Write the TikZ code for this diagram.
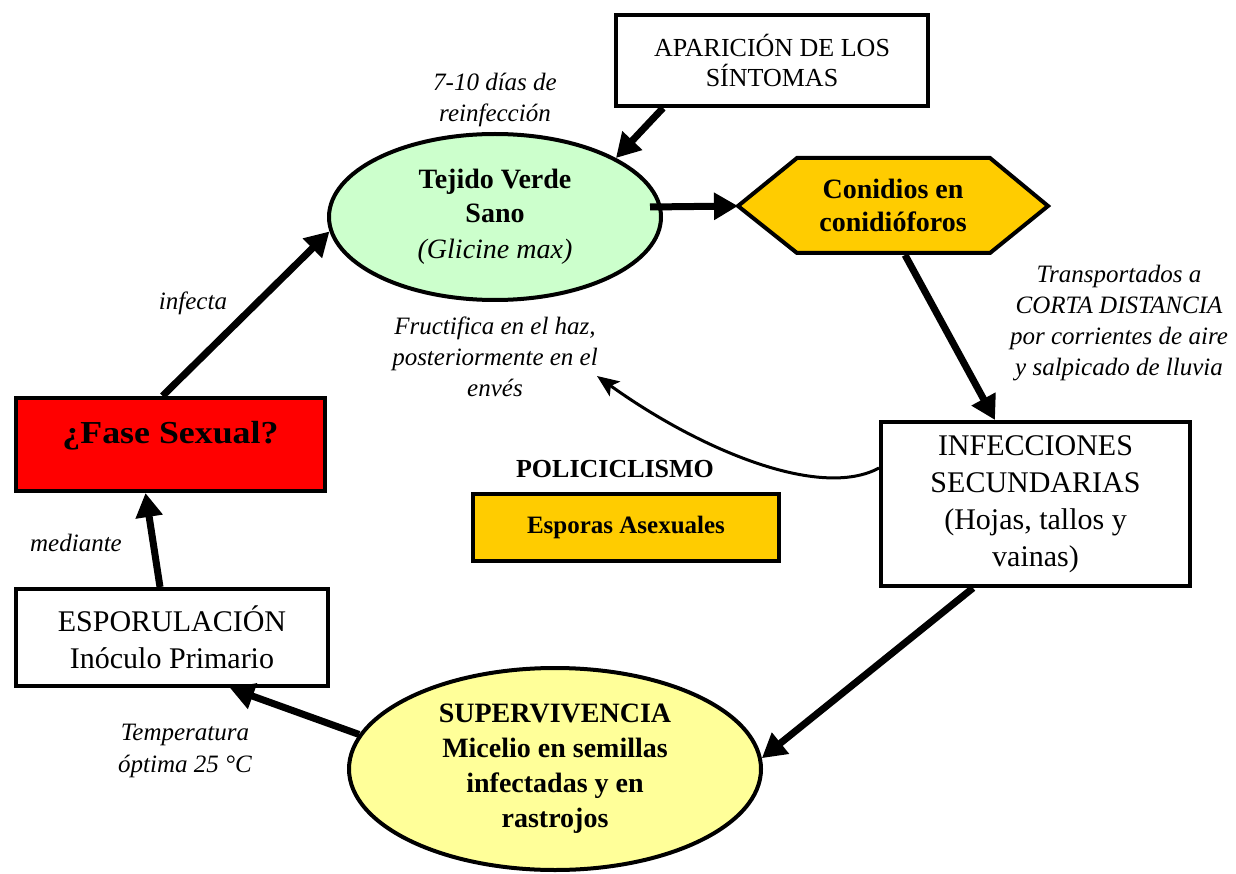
\documentclass[tikz,border=0pt]{standalone}
\usepackage{fontspec}
\setmainfont{Liberation Serif}
\usetikzlibrary{arrows.meta,shapes.geometric,calc}
\definecolor{lgreen}{HTML}{CCFFCC}
\definecolor{lyellow}{HTML}{FFFF99}
\definecolor{gold}{HTML}{FFCC00}
\newcommand\myfs[2]{\fontsize{#1}{#2}\selectfont}
\begin{document}
\begin{tikzpicture}[x=1pt,y=-1pt,
  box/.style={draw, line width=4pt, rectangle, inner sep=0pt, align=center},
  oval/.style={draw, line width=4pt, ellipse, inner sep=0pt, align=center},
  arr/.style={line width=7pt, -{Triangle[length=24pt,width=26pt]}},
  thinarr/.style={line width=3pt, -{Stealth[length=22pt,width=18pt,inset=5pt]}},
  lbl/.style={align=center, font=\myfs{25}{31}\itshape},
  reg/.style={font=\myfs{30}{37}},
  bld/.style={font=\myfs{28}{34}\bfseries},
]
\useasboundingbox (0,0) rectangle (1236,874);

% nodes
\node[box, reg, font=\myfs{26}{30}, minimum width=312pt, minimum height=91pt] (apar) at (772,60.5) {APARICIÓN DE LOS\\SÍNTOMAS};
\node[lbl] (dias) at (495,100) {7-10 días de\\reinfección};
\node[oval, fill=lgreen, bld, minimum width=332pt, minimum height=166pt] (teji) at (495,217) {Tejido Verde\\Sano\\[2pt]{\mdseries\itshape (Glicine max)}};

\draw[line width=4pt, fill=gold, line join=miter] (738,206) coordinate (hexW) -- (797,158) -- (990,158) -- (1048,206) -- (990,253) -- (797,253) -- cycle;
\coordinate (hexS) at (905,255);
\node[bld, align=center, font=\myfs{28}{33}\bfseries] (conid) at (893,205) {Conidios en\\conidióforos};

\node[lbl] (transp) at (1119,323.5) {Transportados a\\CORTA DISTANCIA\\por corrientes de aire\\y salpicado de lluvia};
\node[lbl] (fruct) at (495,357) {Fructifica en el haz,\\posteriormente en el\\envés};
\coordinate (fructtip) at (597,376);

\node[box, reg, minimum width=309pt, minimum height=164pt] (infec) at (1035.5,504) {INFECCIONES\\SECUNDARIAS\\(Hojas, tallos y\\vainas)};

\node[font=\myfs{26}{30}\bfseries] (polic) at (615,469) {POLICICLISMO};
\node[box, fill=gold, font=\myfs{25}{30}\bfseries, minimum width=306pt, minimum height=67pt] (espor) at (626,527.5) {Esporas Asexuales};

\node[box, fill=red, font=\myfs{32}{38}\bfseries, minimum width=309pt, minimum height=93pt, text height=22pt, text depth=24pt] (fase) at (170.5,444.5) {\scalebox{1.12}[1]{¿Fase Sexual?}};
\node[lbl] (infecta) at (193,303) {infecta};
\node[lbl] (mediante) at (76,543) {mediante};

\node[box, reg, minimum width=312pt, minimum height=97pt] (espo) at (172,637.5) {ESPORULACIÓN\\Inóculo Primario};

\node[oval, fill=lyellow, font=\myfs{28}{35}\bfseries, minimum width=412pt, minimum height=202pt] (yell) at (555,769) {SUPERVIVENCIA\\Micelio en semillas\\infectadas y en\\rastrojos};
\node[lbl, font=\myfs{25}{32}\itshape] (temp) at (185,751) {Temperatura\\óptima 25 °C};

% connectors
\draw[arr] ($(apar.south west)+(49,0)$) -- (teji.26);
\draw[arr] ($(teji.east)+(-13,-10)$) -- (hexW);
\draw[arr] (hexS) -- ($(infec.north west)+(116,0)$);
\draw[thinarr] ($(infec.west)+(0,-36)$) .. controls (820,500) and (700,450) .. (fructtip);
\draw[arr] ($(infec.south west)+(94,0)$) -- (yell.3);
\draw[arr] (yell.170) -- ($(espo.south west)+(216,0)$);
\draw[arr] ($(espo.north)+(-12,0)$) -- ($(fase.south)+(-25,0)$);
\draw[arr] ($(fase.north)+(-8,0)$) -- (teji.185);
\end{tikzpicture}
\end{document}
